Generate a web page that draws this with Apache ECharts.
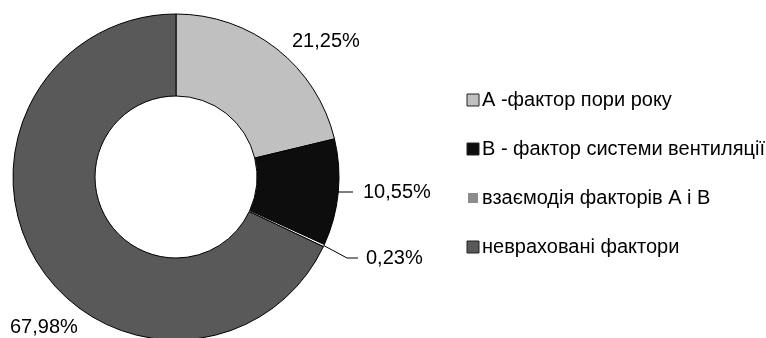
<!DOCTYPE html>
<html><head><meta charset="utf-8">
<script src="https://cdn.jsdelivr.net/npm/echarts@6/dist/echarts.min.js"></script>
<style>html,body{margin:0;padding:0;background:#fff}#c{width:766px;height:338px}</style>
</head><body><div id="c"></div>
<script>
const categories = ['А -фактор пори року', 'В - фактор системи вентиляції', 'взаємодія факторів А і В', 'невраховані фактори'];
const values = [21.25, 10.55, 0.23, 67.98];
const sliceColors = ['#c0c0c0', '#0d0d0d', '#ffffff', '#595959'];
const legendColors = ['#c0c0c0', '#0d0d0d', '#8c8c8c', '#595959'];

const FONT = '"Liberation Sans Narrow", "Liberation Sans", Arial, sans-serif';
const cx = 176, cy = 177, r0 = 81, r1 = 163;
const total = values.reduce((a, b) => a + b, 0);
function midAngle(i) {
  let s = 0; for (let k = 0; k < i; k++) s += values[k];
  const deg = 90 - (s + values[i] / 2) / total * 360;
  return deg * Math.PI / 180;
}
function pt(i, r) { const a = midAngle(i); return [cx + r * Math.cos(a), cy - r * Math.sin(a)]; }

const chart = echarts.init(document.getElementById('c'), null, {renderer: 'canvas'});
chart.setOption({
  animation: false,
  legend: {
    orient: 'vertical', left: 466, top: 90, padding: 0, itemGap: 29, itemWidth: 12, itemHeight: 12,
    icon: 'rect',
    textStyle: {fontFamily: FONT, fontSize: 20, color: '#000', padding: [0, 0, 0, -2]},
    data: categories.map((n, i) => ({
      name: n,
      itemStyle: i === 2 ? {color: legendColors[i], borderColor: '#fff', borderWidth: 2}
                         : {color: legendColors[i], borderColor: '#222', borderWidth: 1}
    }))
  },
  series: [{
    type: 'pie',
    center: [cx, cy], radius: [r0, r1],
    startAngle: 90, clockwise: true,
    avoidLabelOverlap: false,
    itemStyle: {borderColor: '#000', borderWidth: 1},
    label: {
      show: true, position: 'outside', fontFamily: FONT, fontSize: 20, color: '#000',
      formatter: p => values[p.dataIndex].toFixed(2).replace('.', ',') + '%'
    },
    labelLine: {show: true, lineStyle: {color: '#000', width: 1}},
    labelLayout: function (p) {
      const i = p.dataIndex;
      if (i === 0) return {x: 292, y: 41, align: 'left', verticalAlign: 'middle'};
      if (i === 1) {
        const a = pt(1, (r0 + r1) / 2);
        return {x: 363, y: 192, align: 'left', verticalAlign: 'middle',
          labelLinePoints: [[a[0], 192], [330, 192], [353, 192]]};
      }
      if (i === 2) {
        const a = pt(2, r1);
        return {x: 366, y: 258, align: 'left', verticalAlign: 'middle',
          labelLinePoints: [a, [347, 258], [358, 258]]};
      }
      return {x: 10, y: 327, align: 'left', verticalAlign: 'middle'};
    },
    data: categories.map((n, i) => ({
      name: n, value: values[i],
      itemStyle: {color: sliceColors[i]},
      labelLine: {show: i === 1 || i === 2}
    }))
  }]
});
</script></body></html>
